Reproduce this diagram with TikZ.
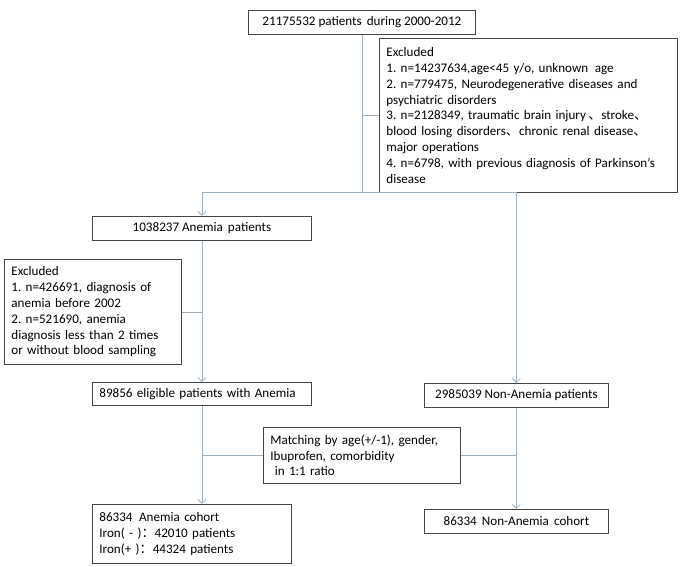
\documentclass[tikz,border=0pt]{standalone}
\usepackage{fontspec}
\setmainfont{Carlito}
\newfontfamily\cjk{Noto Sans CJK SC}
\usepackage{xcolor}
\usetikzlibrary{arrows.meta}
\usetikzlibrary{positioning}
\frenchspacing

\definecolor{boxgray}{RGB}{70,70,70}
\definecolor{linkgray}{RGB}{160,178,192}

\begin{document}
\begin{tikzpicture}[x=1pt, y=-1pt, semithick]
  \tikzstyle{box}=[draw=boxgray, line width=0.8pt, rectangle, inner xsep=7pt, inner ysep=3pt,
    font=\fontsize{13.1}{15.8}\selectfont, align=left, anchor=north west]
  \tikzstyle{link}=[draw=linkgray, line width=0.8pt]
  \tikzstyle{tip}=[-{Straight Barb[length=4pt,width=8pt]}]
\useasboundingbox (0,0) rectangle (685,567);

\node[box, minimum width=227pt, minimum height=24pt] (all) at (248,10) {21175532 patients\, during 2000-2012};
\node[box, text width=284pt, minimum height=154pt] (excl) at (379,38) {Excluded\\
  1. n=14237634,age<45 y/o, unknown\, age\\
  2. n=779475, Neurodegenerative diseases and\\
  psychiatric disorders\\
  3. n=2128349, traumatic brain injury\,{\cjk 、}stroke{\cjk 、}\\
  blood losing disorders{\cjk 、}chronic renal disease{\cjk 、}\\
  major operations\\
  4. n=6798, with previous diagnosis of Parkinson’s\\
  disease};
\node[box, minimum width=219pt, minimum height=24pt] (anemia) at (92,216) {1038237 Anemia\, patients};
\node[box, text width=163pt, minimum height=105pt] (excl2) at (4,259) {Excluded\\
  1. n=426691, diagnosis of\\
  anemia before 2002\\
  2. n=521690, anemia\\
  diagnosis less than 2 times\\
  or without blood sampling};
\node[box, text width=205pt, minimum height=23pt] (eligible) at (92,382) {89856 eligible patients with Anemia};
\node[box, minimum width=184pt, minimum height=24pt] (nonanemia) at (424,383) {2985039 Non-Anemia patients};
\node[box, text width=183pt, minimum height=56pt] (match) at (263,427) {Matching by age(+/-1), gender,\\
  Ibuprofen, comorbidity\\
  \ in 1:1 ratio};
\node[box, text width=185pt, minimum height=59pt] (cohort) at (92,504) {86334\, Anemia cohort\\
  Iron( - ){\cjk ：}42010 patients\\
  Iron(+ ){\cjk ：}44324 patients};
\node[box, minimum width=184pt, minimum height=24pt] (noncohort) at (424,509) {86334\, Non-Anemia\, cohort};

% first split
\coordinate (fork) at (all.south |- 0,192);
\draw[link] (all.south) -- (fork);
\draw[link] (all.south |- excl.west) -- (excl.west);
\draw[link] (anemia.north |- fork) -- (nonanemia.north |- fork);
\draw[link, tip] (anemia.north |- fork) -- (anemia.north);
\draw[link, tip] (nonanemia.north |- fork) -- (nonanemia.north);

% anemia branch
\draw[link, tip] (anemia.south) -- (eligible.north);
\draw[link] (excl2.east) -- (excl2.east -| anemia.south);
\draw[link, tip] (eligible.south) -- (eligible.south |- cohort.north);
\draw[link] (match.west) -- (match.west -| eligible.south);

% non-anemia branch
\draw[link, tip] (nonanemia.south) -- (noncohort.north);
\draw[link] (match.east) -- (match.east -| nonanemia.south);
\end{tikzpicture}
\end{document}
